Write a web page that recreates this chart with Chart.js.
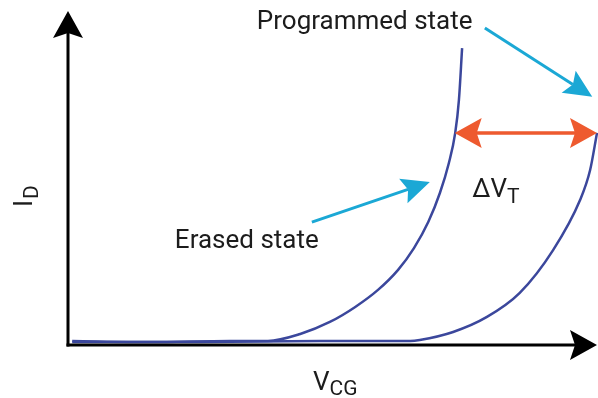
<!DOCTYPE html>
<html>
<head>
<meta charset="utf-8">
<script src="https://cdn.jsdelivr.net/npm/chart.js@4"></script>
<style>
  html, body { margin: 0; padding: 0; background: #fff; }
  #wrap { width: 598px; height: 398px; }
</style>
</head>
<body>
<div id="wrap"><canvas id="chartOne" width="598" height="398"></canvas></div>
<script>
// gate voltage (arbitrary units) and drain current for each state
const erasedV = [0.08, 1.55, 3.06, 3.78, 4.39, 4.95, 5.43, 5.86, 6.24, 6.54, 6.81, 7.03, 7.20, 7.32, 7.39, 7.45];
const erasedI = [0.12, 0.09, 0.12, 0.12, 0.33, 0.69, 1.14, 1.65, 2.25, 2.90, 3.68, 4.55, 5.45, 6.35, 7.34, 8.89];
const programmedV = [0.08, 2.50, 4.76, 6.47, 6.65, 7.28, 7.92, 8.54, 9.17, 9.68, 9.87, 10.0];
const programmedI = [0.09, 0.09, 0.12, 0.12, 0.15, 0.39, 0.84, 1.56, 2.84, 4.34, 5.24, 6.35];

// threshold shift marker, read at the same current level
const shiftLevel = 6.35;
const shiftFrom = 7.31;
const shiftTo = 10.0;

function toPoints(xs, ys) {
    return xs.map((x, i) => ({ x: x, y: ys[i] }));
}

function arrowHead(ctx, tx, ty, ang, len, half, notch, color) {
    let dx = Math.cos(ang), dy = Math.sin(ang);
    let px = -dy, py = dx;
    ctx.fillStyle = color;
    ctx.beginPath();
    ctx.moveTo(tx, ty);
    ctx.lineTo(tx - len * dx + half * px, ty - len * dy + half * py);
    ctx.lineTo(tx - (len - notch) * dx, ty - (len - notch) * dy);
    ctx.lineTo(tx - len * dx - half * px, ty - len * dy - half * py);
    ctx.closePath();
    ctx.fill();
}

function arrow(ctx, x1, y1, x2, y2, color, width, len, half, notch) {
    let ang = Math.atan2(y2 - y1, x2 - x1);
    ctx.strokeStyle = color;
    ctx.lineWidth = width;
    ctx.beginPath();
    ctx.moveTo(x1, y1);
    ctx.lineTo(x2 - (len - notch) * Math.cos(ang), y2 - (len - notch) * Math.sin(ang));
    ctx.stroke();
    arrowHead(ctx, x2, y2, ang, len, half, notch, color);
}

const sketch = {
    id: "sketch",
    afterDatasetsDraw(chart) {
        let ctx = chart.ctx;
        let xs = chart.scales.x, ys = chart.scales.y;
        let X = v => xs.getPixelForValue(v);
        let Y = v => ys.getPixelForValue(v);
        ctx.save();

        // axes
        ctx.lineCap = "butt";
        arrow(ctx, X(0), Y(0) + 1.5, X(0), Y(10), "#000", 3, 27, 15, 5);
        arrow(ctx, X(0) - 1.5, Y(0), X(10), Y(0), "#000", 3, 27, 15, 5);

        // delta V_T double arrow
        let ry = Y(shiftLevel);
        arrow(ctx, X(shiftFrom) + 20, ry, X(shiftTo), ry, "#ee5a2f", 3, 27, 15, 5);
        arrow(ctx, X(shiftTo) - 20, ry, X(shiftFrom), ry, "#ee5a2f", 3, 27, 15, 5);

        // pointer arrows
        arrow(ctx, X(7.88), Y(9.49), X(9.91), Y(7.43), "#1ba8d5", 3, 28, 13, 5);
        arrow(ctx, X(4.61), Y(3.68), X(6.84), Y(4.88), "#1ba8d5", 3, 28, 13, 5);

        // labels
        ctx.fillStyle = "#1c1c1c";
        ctx.textBaseline = "alphabetic";
        ctx.textAlign = "left";
        ctx.font = "26px Roboto";
        ctx.fillText("Programmed state", X(3.57), Y(9.46));
        ctx.fillText("Erased state", X(2.02), Y(2.90));

        let dx = X(7.64), dy = Y(4.43);
        ctx.fillText("\u0394V", dx, dy);
        let w = ctx.measureText("\u0394V").width;
        ctx.font = "21px Roboto";
        ctx.fillText("T", dx + w, dy + 6);

        ctx.font = "26px Roboto";
        let vx = X(4.63), vy = Y(-1.35);
        ctx.fillText("V", vx, vy);
        w = ctx.measureText("V").width;
        ctx.font = "21px Roboto";
        ctx.fillText("CG", vx + w, vy + 5);

        ctx.translate(32, 207);
        ctx.rotate(-Math.PI / 2);
        ctx.font = "26px Roboto";
        ctx.fillText("I", 0, 0);
        w = ctx.measureText("I").width;
        ctx.font = "21px Roboto";
        ctx.fillText("D", w + 1, 6);

        ctx.restore();
    }
};

let ctx = document.getElementById("chartOne").getContext("2d");

let newChart = new Chart(ctx, {
    type: "line",
    data: {
        datasets: [{
            label: "Erased state",
            data: toPoints(erasedV, erasedI),
            borderColor: "#3b479c",
            borderWidth: 2.5,
            pointRadius: 0,
            cubicInterpolationMode: "monotone",
            clip: false
        }, {
            label: "Programmed state",
            data: toPoints(programmedV, programmedI),
            borderColor: "#3b479c",
            borderWidth: 2.5,
            pointRadius: 0,
            cubicInterpolationMode: "monotone",
            clip: false
        }]
    },
    options: {
        responsive: false,
        animation: false,
        layout: { padding: { left: 68, right: 1, top: 11, bottom: 53 } },
        plugins: { legend: { display: false }, tooltip: { enabled: false } },
        scales: {
            x: { type: "linear", min: 0, max: 10, display: false },
            y: { type: "linear", min: 0, max: 10, display: false }
        }
    },
    plugins: [sketch]
});
</script>
</body>
</html>
